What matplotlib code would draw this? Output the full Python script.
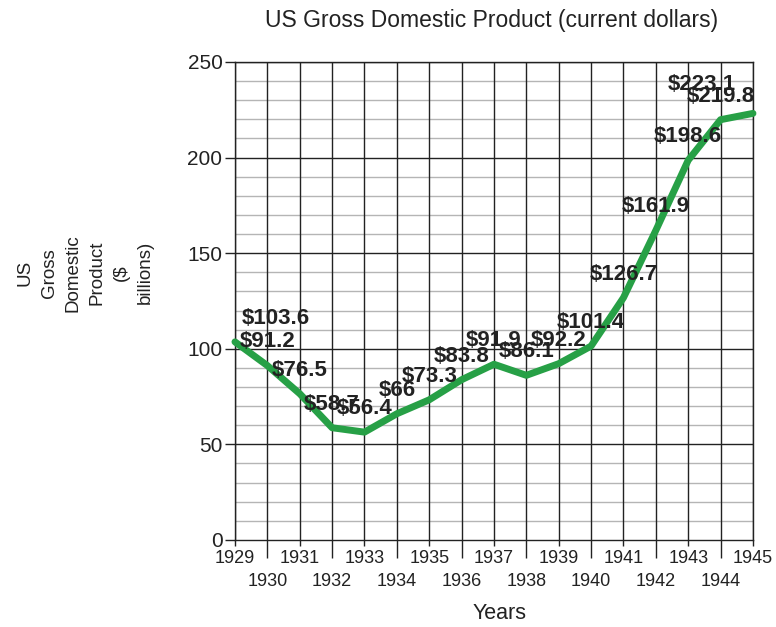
import matplotlib
matplotlib.use("Agg")
import matplotlib.pyplot as plt
from matplotlib.ticker import MultipleLocator, FixedLocator, FixedFormatter

plt.rcParams['font.family'] = ['Liberation Sans', 'DejaVu Sans']

years = [1929, 1930, 1931, 1932, 1933, 1934, 1935, 1936, 1937,
         1938, 1939, 1940, 1941, 1942, 1943, 1944, 1945]
gdp = [103.6, 91.2, 76.5, 58.7, 56.4, 66, 73.3, 83.8, 91.9,
       86.1, 92.2, 101.4, 126.7, 161.9, 198.6, 219.8, 223.1]
title = "US Gross Domestic Product (current dollars)"
xlabel = "Years"
ylabel = "US\nGross\nDomestic\nProduct\n($\nbillions)"

fig = plt.figure(figsize=(7.76, 6.27), dpi=100)
ax = fig.add_axes([0.3028, 0.1388, 0.6675, 0.7624])

ax.set_xlim(years[0], years[-1])
ax.set_ylim(0, 250)

# grid
ax.yaxis.set_major_locator(MultipleLocator(50))
ax.yaxis.set_minor_locator(MultipleLocator(10))
for y in range(10, 250, 10):
    if y % 50:
        ax.axhline(y, color='#b5b5b5', lw=1.0, zorder=1)
for y in range(50, 251, 50):
    ax.axhline(y, color='#222222', lw=1.0, zorder=1.5)
for x in years:
    ax.axvline(x, color='#222222', lw=1.0, zorder=1.5)

odd = [y for y in years if y % 2 == 1]
even = [y for y in years if y % 2 == 0]
ax.xaxis.set_major_locator(FixedLocator(odd))
ax.xaxis.set_major_formatter(FixedFormatter([str(y) for y in odd]))
ax.xaxis.set_minor_locator(FixedLocator(even))
ax.xaxis.set_minor_formatter(FixedFormatter([str(y) for y in even]))
ax.tick_params(axis='x', which='major', length=4, width=1, color='#222222',
               labelsize=13, pad=3, labelcolor='#222222')
ax.tick_params(axis='x', which='minor', length=13, width=1, color='#222222',
               labelsize=13, pad=11, labelcolor='#222222')
ax.tick_params(axis='y', which='major', length=7, width=1, color='#222222',
               labelsize=15, pad=2, labelcolor='#222222')
ax.tick_params(axis='y', which='minor', length=0)

for s in ax.spines.values():
    s.set_color('#222222')
    s.set_linewidth(1.0)

ax.plot(years, gdp, color='#27a046', lw=5, solid_joinstyle='round',
        solid_capstyle='round', zorder=3, clip_on=False)

for i, (x, v) in enumerate(zip(years, gdp)):
    txt = f"${v:g}"
    if i == 0:
        ha, dx = 'left', 5
    elif i == len(years) - 1:
        ha, dx = 'right', -12
    else:
        ha, dx = 'center', 0
    dy = 21 if i == len(years) - 1 else 17
    ax.annotate(txt, (x, v), xytext=(dx, dy), textcoords='offset points',
                ha=ha, va='center', fontsize=16, fontweight='bold',
                color='#222222', zorder=4)

fig.text(0.634, 0.968, title, ha='center', va='center', fontsize=16.5,
         color='#222222')
fig.text(0.644, 0.021, xlabel, ha='center', va='center', fontsize=15.5,
         color='#222222')
fig.text(0.110, 0.565, ylabel, ha='center', va='center', rotation=90,
         fontsize=13.5, linespacing=1.55, multialignment='center',
         color='#222222')

fig.savefig("out.png", dpi=100)
